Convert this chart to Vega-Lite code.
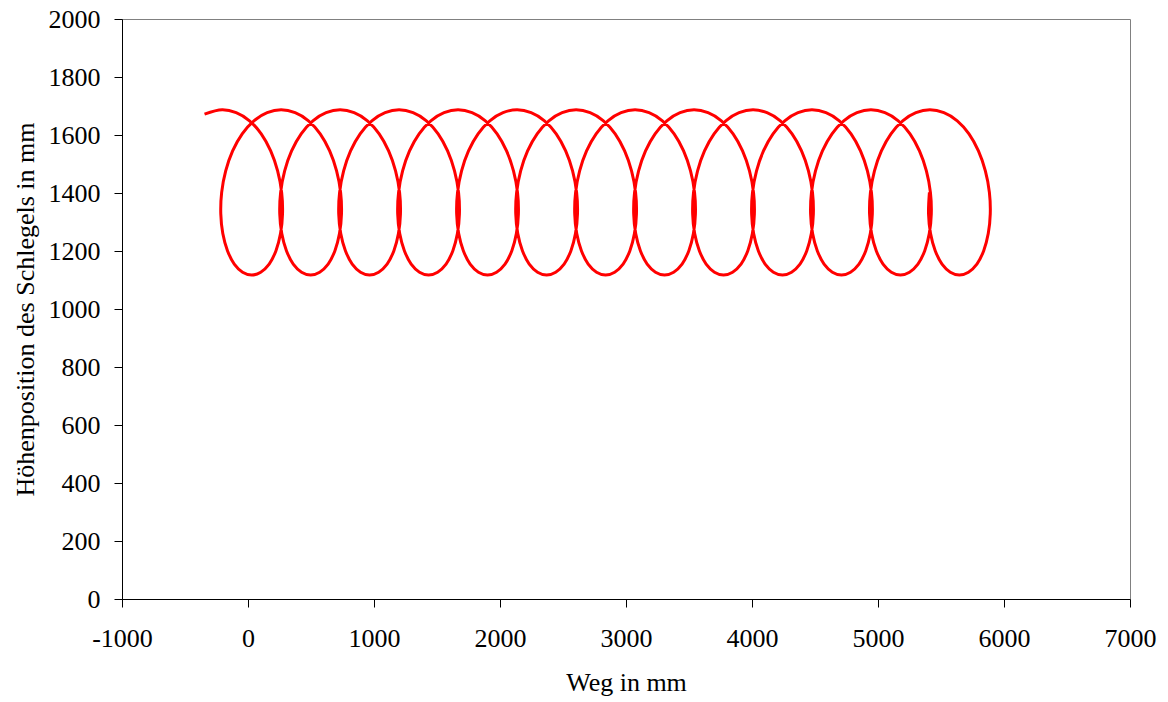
{
"$schema": "https://vega.github.io/schema/vega-lite/v6.json",
"width": 1008, "height": 580,
"autosize": {"type": "none"},
"padding": {"left": 122, "top": 19, "right": 38, "bottom": 103},
"background": "white",
"config": {"view": {"stroke": "#808080", "strokeWidth": 1}, "font": "Liberation Serif",
 "axis": {"grid": false, "domainColor": "#000", "tickColor": "#000", "labelColor": "#000", "titleColor": "#000", "labelFont": "Liberation Serif", "titleFont": "Liberation Serif", "labelFontSize": 26, "titleFontSize": 26, "titleFontWeight": "normal", "tickSize": 8}},
"data": {"values": [
{"i":0,"x":-345,"y":1672},
{"i":1,"x":-205,"y":1687},{"i":2,"x":-94,"y":1677},{"i":3,"x":12,"y":1649},{"i":4,"x":105,"y":1604},{"i":5,"x":180,"y":1545},{"i":6,"x":235,"y":1476},{"i":7,"x":267,"y":1402},{"i":8,"x":274,"y":1328},{"i":9,"x":258,"y":1260},{"i":10,"x":222,"y":1201},{"i":11,"x":168,"y":1155},{"i":12,"x":101,"y":1127},{"i":13,"x":29,"y":1117},{"i":14,"x":-43,"y":1127},{"i":15,"x":-109,"y":1155},{"i":16,"x":-163,"y":1201},{"i":17,"x":-200,"y":1260},{"i":18,"x":-216,"y":1328},{"i":19,"x":-209,"y":1402},{"i":20,"x":-177,"y":1476},{"i":21,"x":-122,"y":1545},{"i":22,"x":-46,"y":1604},{"i":23,"x":47,"y":1649},{"i":24,"x":152,"y":1677},
{"i":25,"x":263,"y":1687},{"i":26,"x":374,"y":1677},{"i":27,"x":480,"y":1649},{"i":28,"x":573,"y":1604},{"i":29,"x":648,"y":1545},{"i":30,"x":703,"y":1476},{"i":31,"x":735,"y":1402},{"i":32,"x":742,"y":1328},{"i":33,"x":726,"y":1260},{"i":34,"x":690,"y":1201},{"i":35,"x":636,"y":1155},{"i":36,"x":569,"y":1127},{"i":37,"x":497,"y":1117},{"i":38,"x":425,"y":1127},{"i":39,"x":359,"y":1155},{"i":40,"x":305,"y":1201},{"i":41,"x":268,"y":1260},{"i":42,"x":252,"y":1328},{"i":43,"x":259,"y":1402},{"i":44,"x":291,"y":1476},{"i":45,"x":346,"y":1545},{"i":46,"x":422,"y":1604},{"i":47,"x":515,"y":1649},{"i":48,"x":620,"y":1677},
{"i":49,"x":731,"y":1687},{"i":50,"x":842,"y":1677},{"i":51,"x":948,"y":1649},{"i":52,"x":1041,"y":1604},{"i":53,"x":1116,"y":1545},{"i":54,"x":1171,"y":1476},{"i":55,"x":1203,"y":1402},{"i":56,"x":1210,"y":1328},{"i":57,"x":1194,"y":1260},{"i":58,"x":1158,"y":1201},{"i":59,"x":1104,"y":1155},{"i":60,"x":1037,"y":1127},{"i":61,"x":965,"y":1117},{"i":62,"x":893,"y":1127},{"i":63,"x":827,"y":1155},{"i":64,"x":773,"y":1201},{"i":65,"x":736,"y":1260},{"i":66,"x":720,"y":1328},{"i":67,"x":727,"y":1402},{"i":68,"x":759,"y":1476},{"i":69,"x":814,"y":1545},{"i":70,"x":890,"y":1604},{"i":71,"x":983,"y":1649},{"i":72,"x":1088,"y":1677},
{"i":73,"x":1199,"y":1687},{"i":74,"x":1310,"y":1677},{"i":75,"x":1416,"y":1649},{"i":76,"x":1509,"y":1604},{"i":77,"x":1584,"y":1545},{"i":78,"x":1639,"y":1476},{"i":79,"x":1671,"y":1402},{"i":80,"x":1678,"y":1328},{"i":81,"x":1662,"y":1260},{"i":82,"x":1626,"y":1201},{"i":83,"x":1572,"y":1155},{"i":84,"x":1505,"y":1127},{"i":85,"x":1433,"y":1117},{"i":86,"x":1361,"y":1127},{"i":87,"x":1295,"y":1155},{"i":88,"x":1241,"y":1201},{"i":89,"x":1204,"y":1260},{"i":90,"x":1188,"y":1328},{"i":91,"x":1195,"y":1402},{"i":92,"x":1227,"y":1476},{"i":93,"x":1282,"y":1545},{"i":94,"x":1358,"y":1604},{"i":95,"x":1451,"y":1649},{"i":96,"x":1556,"y":1677},
{"i":97,"x":1667,"y":1687},{"i":98,"x":1778,"y":1677},{"i":99,"x":1884,"y":1649},{"i":100,"x":1977,"y":1604},{"i":101,"x":2052,"y":1545},{"i":102,"x":2107,"y":1476},{"i":103,"x":2139,"y":1402},{"i":104,"x":2146,"y":1328},{"i":105,"x":2130,"y":1260},{"i":106,"x":2094,"y":1201},{"i":107,"x":2040,"y":1155},{"i":108,"x":1973,"y":1127},{"i":109,"x":1901,"y":1117},{"i":110,"x":1829,"y":1127},{"i":111,"x":1763,"y":1155},{"i":112,"x":1709,"y":1201},{"i":113,"x":1672,"y":1260},{"i":114,"x":1656,"y":1328},{"i":115,"x":1663,"y":1402},{"i":116,"x":1695,"y":1476},{"i":117,"x":1750,"y":1545},{"i":118,"x":1826,"y":1604},{"i":119,"x":1919,"y":1649},{"i":120,"x":2024,"y":1677},
{"i":121,"x":2136,"y":1687},{"i":122,"x":2247,"y":1677},{"i":123,"x":2353,"y":1649},{"i":124,"x":2446,"y":1604},{"i":125,"x":2521,"y":1545},{"i":126,"x":2576,"y":1476},{"i":127,"x":2608,"y":1402},{"i":128,"x":2615,"y":1328},{"i":129,"x":2599,"y":1260},{"i":130,"x":2563,"y":1201},{"i":131,"x":2509,"y":1155},{"i":132,"x":2442,"y":1127},{"i":133,"x":2370,"y":1117},{"i":134,"x":2298,"y":1127},{"i":135,"x":2232,"y":1155},{"i":136,"x":2178,"y":1201},{"i":137,"x":2141,"y":1260},{"i":138,"x":2125,"y":1328},{"i":139,"x":2132,"y":1402},{"i":140,"x":2164,"y":1476},{"i":141,"x":2219,"y":1545},{"i":142,"x":2295,"y":1604},{"i":143,"x":2388,"y":1649},{"i":144,"x":2493,"y":1677},
{"i":145,"x":2604,"y":1687},{"i":146,"x":2715,"y":1677},{"i":147,"x":2821,"y":1649},{"i":148,"x":2914,"y":1604},{"i":149,"x":2989,"y":1545},{"i":150,"x":3044,"y":1476},{"i":151,"x":3076,"y":1402},{"i":152,"x":3083,"y":1328},{"i":153,"x":3067,"y":1260},{"i":154,"x":3031,"y":1201},{"i":155,"x":2977,"y":1155},{"i":156,"x":2910,"y":1127},{"i":157,"x":2838,"y":1117},{"i":158,"x":2766,"y":1127},{"i":159,"x":2700,"y":1155},{"i":160,"x":2646,"y":1201},{"i":161,"x":2609,"y":1260},{"i":162,"x":2593,"y":1328},{"i":163,"x":2600,"y":1402},{"i":164,"x":2632,"y":1476},{"i":165,"x":2687,"y":1545},{"i":166,"x":2763,"y":1604},{"i":167,"x":2856,"y":1649},{"i":168,"x":2961,"y":1677},
{"i":169,"x":3072,"y":1687},{"i":170,"x":3183,"y":1677},{"i":171,"x":3289,"y":1649},{"i":172,"x":3382,"y":1604},{"i":173,"x":3457,"y":1545},{"i":174,"x":3512,"y":1476},{"i":175,"x":3544,"y":1402},{"i":176,"x":3551,"y":1328},{"i":177,"x":3535,"y":1260},{"i":178,"x":3499,"y":1201},{"i":179,"x":3445,"y":1155},{"i":180,"x":3378,"y":1127},{"i":181,"x":3306,"y":1117},{"i":182,"x":3234,"y":1127},{"i":183,"x":3168,"y":1155},{"i":184,"x":3114,"y":1201},{"i":185,"x":3077,"y":1260},{"i":186,"x":3061,"y":1328},{"i":187,"x":3068,"y":1402},{"i":188,"x":3100,"y":1476},{"i":189,"x":3155,"y":1545},{"i":190,"x":3231,"y":1604},{"i":191,"x":3324,"y":1649},{"i":192,"x":3429,"y":1677},
{"i":193,"x":3540,"y":1687},{"i":194,"x":3651,"y":1677},{"i":195,"x":3757,"y":1649},{"i":196,"x":3850,"y":1604},{"i":197,"x":3925,"y":1545},{"i":198,"x":3980,"y":1476},{"i":199,"x":4012,"y":1402},{"i":200,"x":4019,"y":1328},{"i":201,"x":4003,"y":1260},{"i":202,"x":3967,"y":1201},{"i":203,"x":3913,"y":1155},{"i":204,"x":3846,"y":1127},{"i":205,"x":3774,"y":1117},{"i":206,"x":3702,"y":1127},{"i":207,"x":3636,"y":1155},{"i":208,"x":3582,"y":1201},{"i":209,"x":3545,"y":1260},{"i":210,"x":3529,"y":1328},{"i":211,"x":3536,"y":1402},{"i":212,"x":3568,"y":1476},{"i":213,"x":3623,"y":1545},{"i":214,"x":3699,"y":1604},{"i":215,"x":3792,"y":1649},{"i":216,"x":3897,"y":1677},
{"i":217,"x":4008,"y":1687},{"i":218,"x":4119,"y":1677},{"i":219,"x":4225,"y":1649},{"i":220,"x":4318,"y":1604},{"i":221,"x":4393,"y":1545},{"i":222,"x":4448,"y":1476},{"i":223,"x":4480,"y":1402},{"i":224,"x":4487,"y":1328},{"i":225,"x":4471,"y":1260},{"i":226,"x":4435,"y":1201},{"i":227,"x":4381,"y":1155},{"i":228,"x":4314,"y":1127},{"i":229,"x":4242,"y":1117},{"i":230,"x":4170,"y":1127},{"i":231,"x":4104,"y":1155},{"i":232,"x":4050,"y":1201},{"i":233,"x":4013,"y":1260},{"i":234,"x":3997,"y":1328},{"i":235,"x":4004,"y":1402},{"i":236,"x":4036,"y":1476},{"i":237,"x":4091,"y":1545},{"i":238,"x":4167,"y":1604},{"i":239,"x":4260,"y":1649},{"i":240,"x":4365,"y":1677},
{"i":241,"x":4476,"y":1687},{"i":242,"x":4587,"y":1677},{"i":243,"x":4693,"y":1649},{"i":244,"x":4786,"y":1604},{"i":245,"x":4861,"y":1545},{"i":246,"x":4916,"y":1476},{"i":247,"x":4948,"y":1402},{"i":248,"x":4955,"y":1328},{"i":249,"x":4939,"y":1260},{"i":250,"x":4903,"y":1201},{"i":251,"x":4849,"y":1155},{"i":252,"x":4782,"y":1127},{"i":253,"x":4710,"y":1117},{"i":254,"x":4638,"y":1127},{"i":255,"x":4572,"y":1155},{"i":256,"x":4518,"y":1201},{"i":257,"x":4481,"y":1260},{"i":258,"x":4465,"y":1328},{"i":259,"x":4472,"y":1402},{"i":260,"x":4504,"y":1476},{"i":261,"x":4559,"y":1545},{"i":262,"x":4635,"y":1604},{"i":263,"x":4728,"y":1649},{"i":264,"x":4833,"y":1677},
{"i":265,"x":4944,"y":1687},{"i":266,"x":5055,"y":1677},{"i":267,"x":5161,"y":1649},{"i":268,"x":5254,"y":1604},{"i":269,"x":5329,"y":1545},{"i":270,"x":5384,"y":1476},{"i":271,"x":5416,"y":1402},{"i":272,"x":5423,"y":1328},{"i":273,"x":5407,"y":1260},{"i":274,"x":5371,"y":1201},{"i":275,"x":5317,"y":1155},{"i":276,"x":5250,"y":1127},{"i":277,"x":5178,"y":1117},{"i":278,"x":5106,"y":1127},{"i":279,"x":5040,"y":1155},{"i":280,"x":4986,"y":1201},{"i":281,"x":4949,"y":1260},{"i":282,"x":4933,"y":1328},{"i":283,"x":4940,"y":1402},{"i":284,"x":4972,"y":1476},{"i":285,"x":5027,"y":1545},{"i":286,"x":5103,"y":1604},{"i":287,"x":5196,"y":1649},{"i":288,"x":5301,"y":1677},
{"i":289,"x":5412,"y":1687},{"i":290,"x":5523,"y":1677},{"i":291,"x":5629,"y":1649},{"i":292,"x":5722,"y":1604},{"i":293,"x":5797,"y":1545},{"i":294,"x":5852,"y":1476},{"i":295,"x":5884,"y":1402},{"i":296,"x":5891,"y":1328},{"i":297,"x":5875,"y":1260},{"i":298,"x":5839,"y":1201},{"i":299,"x":5785,"y":1155},{"i":300,"x":5718,"y":1127},{"i":301,"x":5646,"y":1117},{"i":302,"x":5574,"y":1127},{"i":303,"x":5508,"y":1155},{"i":304,"x":5454,"y":1201},{"i":305,"x":5417,"y":1260},{"i":306,"x":5401,"y":1328},{"i":307,"x":5408,"y":1402}
]},
"mark": {"type": "line", "color": "#FF0000", "strokeWidth": 3, "interpolate": "catmull-rom"},
"encoding": {
 "x": {"field": "x", "type": "quantitative", "scale": {"domain": [-1000, 7000], "nice": false, "zero": false},
   "axis": {"title": "Weg in mm", "values": [-1000,0,1000,2000,3000,4000,5000,6000,7000], "format": "d", "labelExpr": "replace(datum.label, '\u2212', '-')", "labelPadding": 18, "titlePadding": 18, "labelFlush": false}},
 "y": {"field": "y", "type": "quantitative", "scale": {"domain": [0, 2000], "nice": false, "zero": false},
   "axis": {"title": "Höhenposition des Schlegels in mm", "values": [0,200,400,600,800,1000,1200,1400,1600,1800,2000], "format": "d", "labelPadding": 14, "titlePadding": 10, "labelFlush": false}},
 "order": {"field": "i", "type": "quantitative"}
}
}
